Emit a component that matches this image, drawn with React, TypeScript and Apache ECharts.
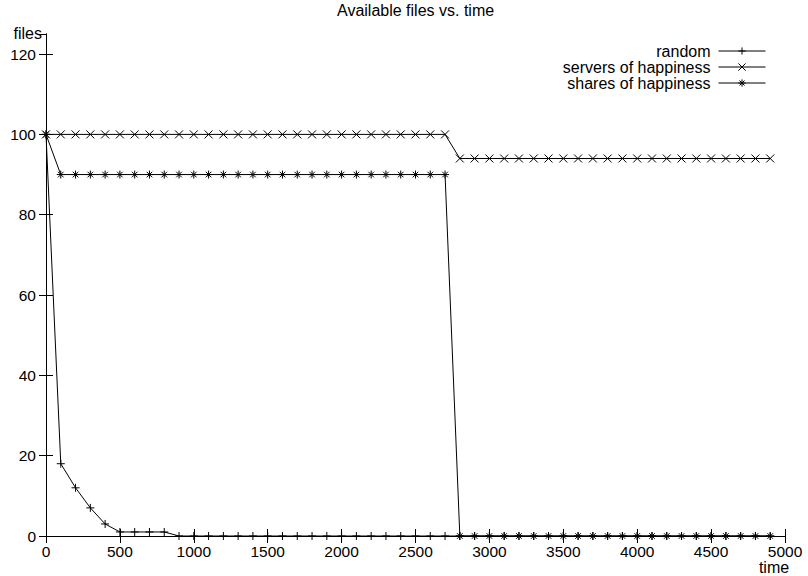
import React, { useEffect, useRef } from "react";
import * as echarts from "echarts";

const times = [
  0, 100, 200, 300, 400, 500, 600, 700, 800, 900,
  1000, 1100, 1200, 1300, 1400, 1500, 1600, 1700, 1800, 1900,
  2000, 2100, 2200, 2300, 2400, 2500, 2600, 2700, 2800, 2900,
  3000, 3100, 3200, 3300, 3400, 3500, 3600, 3700, 3800, 3900,
  4000, 4100, 4200, 4300, 4400, 4500, 4600, 4700, 4800, 4900,
];

const randomFiles = [
  100, 18, 12, 7, 3, 1, 1, 1, 1, 0,
  0, 0, 0, 0, 0, 0, 0, 0, 0, 0,
  0, 0, 0, 0, 0, 0, 0, 0, 0, 0,
  0, 0, 0, 0, 0, 0, 0, 0, 0, 0,
  0, 0, 0, 0, 0, 0, 0, 0, 0, 0,
];

const serversFiles = [
  100, 100, 100, 100, 100, 100, 100, 100, 100, 100,
  100, 100, 100, 100, 100, 100, 100, 100, 100, 100,
  100, 100, 100, 100, 100, 100, 100, 100, 94, 94,
  94, 94, 94, 94, 94, 94, 94, 94, 94, 94,
  94, 94, 94, 94, 94, 94, 94, 94, 94, 94,
];

const sharesFiles = [
  100, 90, 90, 90, 90, 90, 90, 90, 90, 90,
  90, 90, 90, 90, 90, 90, 90, 90, 90, 90,
  90, 90, 90, 90, 90, 90, 90, 90, 0, 0,
  0, 0, 0, 0, 0, 0, 0, 0, 0, 0,
  0, 0, 0, 0, 0, 0, 0, 0, 0, 0,
];

const seriesNames = ["random", "servers of happiness", "shares of happiness"];
const seriesValues = [randomFiles, serversFiles, sharesFiles];
const symbols = [
  "path://M0,5L10,5M5,0L5,10",
  "path://M0,0L10,10M10,0L0,10",
  "path://M0,5L10,5M5,0L5,10M1.5,1.5L8.5,8.5M8.5,1.5L1.5,8.5",
];

const FONT = "Liberation Sans, Arial, Helvetica, sans-serif";

export default function App() {
  const ref = useRef<HTMLDivElement>(null);
  useEffect(() => {
    if (!ref.current) return;
    const chart = echarts.init(ref.current, undefined, { renderer: "svg" });
    const axisCommon = {
      axisLine: { show: true, lineStyle: { color: "#000", width: 1 } },
      axisTick: { show: true, inside: true, length: 7, lineStyle: { color: "#000" } },
      splitLine: { show: false },
    };
    chart.setOption({
      animation: false,
      backgroundColor: "#fff",
      textStyle: { fontFamily: FONT },
      title: {
        text: "Available files vs. time",
        left: 337,
        top: 2,
        padding: 0,
        textStyle: { fontSize: 16, fontWeight: "normal", color: "#000", fontFamily: FONT },
      },
      legend: {
        orient: "vertical",
        right: 42,
        top: 43,
        padding: 0,
        align: "right",
        itemWidth: 47,
        itemHeight: 9,
        itemGap: 0,
        itemStyle: { color: "#000", borderColor: "#000", borderWidth: 1 },
        lineStyle: { color: "#000", width: 1 },
        textStyle: {
          fontSize: 16,
          lineHeight: 15.5,
          color: "#000",
          fontFamily: FONT,
          padding: [0, 3, 0, 0],
        },
        data: seriesNames,
      },
      grid: { left: 46, right: 23, top: 34, bottom: 40 },
      xAxis: [
        {
          type: "value",
          min: 0,
          max: 5000,
          interval: 500,
          position: "bottom",
          ...axisCommon,
          axisLabel: {
            color: "#000",
            fontSize: 15.5,
            margin: 7,
            fontFamily: FONT,
            formatter: (v: number) => String(v),
          },
        },
        {
          type: "value",
          min: 0,
          max: 5000,
          interval: 500,
          position: "top",
          ...axisCommon,
          axisLabel: { show: false },
        },
      ],
      yAxis: [
        {
          type: "value",
          min: 0,
          max: 125,
          interval: 20,
          position: "left",
          ...axisCommon,
          axisLabel: {
            color: "#000",
            fontSize: 15.5,
            margin: 10,
            fontFamily: FONT,
            showMaxLabel: false,
            formatter: (v: number) => String(v),
          },
        },
        {
          type: "value",
          min: 0,
          max: 125,
          interval: 20,
          position: "right",
          ...axisCommon,
          axisLabel: { show: false },
        },
      ],
      graphic: [
        {
          type: "text",
          x: 42,
          y: 33,
          style: {
            text: "files",
            fontSize: 16,
            fill: "#000",
            fontFamily: FONT,
            textAlign: "right",
            textVerticalAlign: "middle",
          },
        },
        {
          type: "text",
          x: 774,
          y: 567,
          style: {
            text: "time",
            fontSize: 16,
            fill: "#000",
            fontFamily: FONT,
            textAlign: "center",
            textVerticalAlign: "middle",
          },
        },
      ],
      series: seriesNames.map((name, k) => ({
        name,
        type: "line",
        xAxisIndex: 0,
        yAxisIndex: 0,
        data: times.map((t, i) => [t, seriesValues[k][i]]),
        symbol: symbols[k],
        symbolSize: 8,
        showAllSymbol: true,
        clip: false,
        lineStyle: { color: "#000", width: 1 },
        itemStyle: { color: "#000", borderColor: "#000", borderWidth: 1 },
        emphasis: { disabled: true },
      })),
    });
    return () => chart.dispose();
  }, []);
  return (
    <div
      ref={ref}
      style={{ position: "fixed", left: 0, top: 0, width: 808, height: 576 }}
    />
  );
}
